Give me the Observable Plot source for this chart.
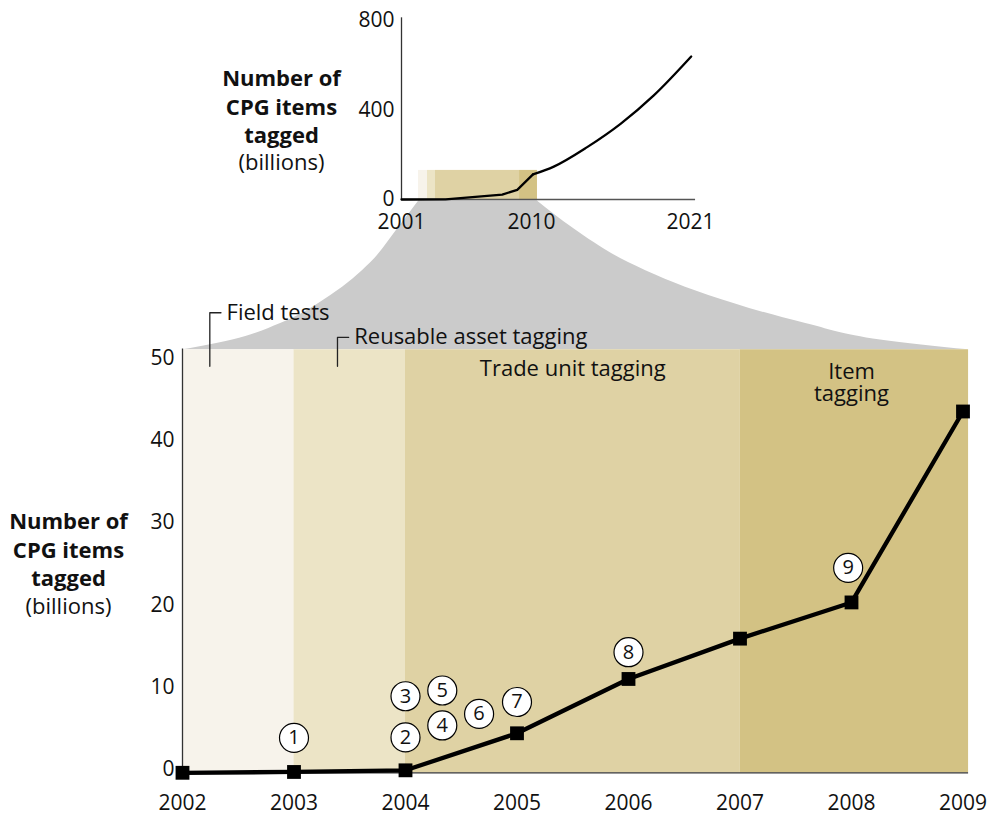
<!DOCTYPE html>
<html><head><meta charset="utf-8">
<script src="https://cdn.jsdelivr.net/npm/d3@7"></script>
<script src="https://cdn.jsdelivr.net/npm/@observablehq/plot@0.6"></script>
<style>
body{margin:0;background:#fff;font-family:"Open Sans",sans-serif;}
#wrap{position:relative;width:990px;height:816px;overflow:hidden;}
#wrap svg{position:absolute;left:0;top:0;}
</style></head><body><div id="wrap"></div>
<script>
// ---- main chart data ----
const years = [2002, 2003, 2004, 2005, 2006, 2007, 2008, 2009];
const tagged = [-0.4, -0.3, -0.1, 4.4, 11.0, 15.9, 20.3, 43.5];
const yTicks = [0, 10, 20, 30, 40, 50];

const bandNames = ["Field tests", "Reusable asset tagging", "Trade unit tagging", "Item tagging"];
const bandStart = [2002, 2003, 2004, 2007];
const bandEnd = [2003, 2004, 2007, 2009.05];
const bandColors = ["#f7f3eb", "#ece4c6", "#dfd2a4", "#d3c284"];

const bandLabelText = ["Trade unit tagging", "Item\ntagging"];
const bandLabelX = [2005.5, 2008.0];
const bandLabelY = [48.7, 47.0];

const calloutText = ["Field tests", "Reusable asset tagging"];
const calloutX = [2002.245, 2003.39];
const calloutTop = [55.5, 52.5];
const calloutBottom = [49.0, 49.0];

const noteNums = ["1", "2", "3", "4", "5", "6", "7", "8", "9"];
const noteX = [2003.0, 2004.0, 2004.0, 2004.33, 2004.33, 2004.66, 2005.0, 2006.0, 2007.97];
const noteY = [3.85, 3.9, 8.9, 5.35, 9.6, 6.75, 8.2, 14.25, 24.5];

// zoom funnel (in main chart units)
const funnelY = [51.0, 52.2, 54.2, 57.6, 61.6, 65.7, 69.1];
const funnelLeft = [2002.0, 2002.45, 2002.88, 2003.33, 2003.69, 2003.93, 2004.12];
const funnelRight = [2009.05, 2008.26, 2007.59, 2006.72, 2006.0, 2005.51, 2005.18];

// ---- inset data ----
const insetYears = [2001, 2004.05, 2007.97, 2009.01, 2010.1, 2011.54, 2013.85, 2016.16, 2018.46, 2021.05];
const insetValues = [0, 0.5, 22, 43, 112, 147, 234, 338, 465, 639];
const insetKink = 4; // index where the smooth projection starts
const insetXTicks = [2001, 2010, 2021];
const insetYTicks = [0, 400, 800];
const insetBandStart = [2002.18, 2002.8, 2003.35, 2009.17];
const insetBandEnd = [2002.8, 2003.35, 2009.17, 2010.41];
const insetBandTop = 130;

// ---- tables ----
const series = years.map((y, i) => ({year: y, value: tagged[i]}));
const bands = bandNames.map((n, i) => ({name: n, start: bandStart[i], end: bandEnd[i], color: bandColors[i]}));
const bandLabels = bandLabelText.map((t, i) => ({text: t, x: bandLabelX[i], y: bandLabelY[i]}));
const callouts = calloutText.map((t, i) => ({text: t, x: calloutX[i], top: calloutTop[i], bottom: calloutBottom[i]}));
const calloutPaths = callouts.flatMap((c, i) => [
  {k: i, x: c.x, y: c.bottom},
  {k: i, x: c.x, y: c.top},
  {k: i, x: c.x + 0.1, y: c.top}
]);
const notes = noteNums.map((n, i) => ({n, x: noteX[i], y: noteY[i]}));
const funnel = funnelY.map((y, i) => ({y, x1: funnelLeft[i], x2: funnelRight[i]}));
const inset = insetYears.map((y, i) => ({year: y, value: insetValues[i]}));
const insetPast = inset.slice(0, insetKink + 1);
const insetFuture = inset.slice(insetKink);
const insetBands = insetBandStart.map((s, i) => ({start: s, end: insetBandEnd[i], color: bandColors[i]}));

const FONT = "Open Sans";
const FS = 21;   // tick labels
const LS = 22;   // annotation / title text

const mainChart = Plot.plot({
  width: 990, height: 816,
  marginLeft: 182, marginRight: 27.5, marginTop: 357.5, marginBottom: 47,
  x: {domain: [2002, 2009]},
  y: {domain: [0, 50]},
  color: {type: "identity"},
  style: {background: "transparent", fontFamily: FONT, fontSize: FS + "px", color: "#111"},
  marks: [
    Plot.areaX(funnel, {y: "y", x1: "x1", x2: "x2", fill: "#cbcbcb", curve: "monotone-y"}),
    Plot.rect(bands, {x1: "start", x2: "end", y1: -0.4, y2: 51, fill: "color"}),
    Plot.ruleX([2002], {y1: -0.4, y2: 51.1, stroke: "#333", strokeWidth: 1.3}),
    Plot.ruleY([-0.4], {x1: 2002, x2: 2009.05, stroke: "#333", strokeWidth: 1.3}),
    Plot.axisY({ticks: yTicks, tickSize: 0, tickPadding: 8, label: null, fontSize: FS, tickFormat: "d"}),
    Plot.axisX({ticks: years, tickSize: 0, tickPadding: 26, label: null, fontSize: FS, tickFormat: "d"}),
    Plot.line(calloutPaths, {x: "x", y: "y", z: "k", stroke: "#222", strokeWidth: 1.3}),
    Plot.text(callouts, {x: d => d.x + 0.15, y: "top", text: "text", textAnchor: "start", fontSize: LS}),
    Plot.text(bandLabels, {x: "x", y: "y", text: "text", fontSize: LS, lineHeight: 1.04}),
    Plot.line(series, {x: "year", y: "value", stroke: "black", strokeWidth: 4.3}),
    Plot.dot(series, {x: "year", y: "value", symbol: "square", r: 7.8, fill: "black"}),
    Plot.dot(notes, {x: "x", y: "y", r: 14.5, fill: "white", stroke: "black", strokeWidth: 1.2}),
    Plot.text(notes, {x: "x", y: "y", text: "n", fontSize: 20}),
    Plot.text(["Number of\nCPG items\ntagged"], {frameAnchor: "top-left", dx: -114, dy: 190.5, lineAnchor: "middle", textAnchor: "middle", fontWeight: "bold", fontSize: LS, lineHeight: 1.3}),
    Plot.text(["(billions)"], {frameAnchor: "top-left", dx: -114, dy: 249, lineAnchor: "middle", textAnchor: "middle", fontSize: LS})
  ]
});

const insetChart = Plot.plot({
  width: 990, height: 240,
  marginLeft: 401, marginRight: 300, marginTop: 20, marginBottom: 41,
  x: {domain: [2001, 2021]},
  y: {domain: [0, 800]},
  color: {type: "identity"},
  style: {background: "transparent", fontFamily: FONT, fontSize: FS + "px", color: "#111"},
  marks: [
    Plot.rect(insetBands, {x1: "start", x2: "end", y1: 0, y2: insetBandTop, fill: "color"}),
    Plot.ruleX([2001], {y1: 0, y2: 812, stroke: "#333", strokeWidth: 1.3}),
    Plot.ruleY([0], {x1: 2001, x2: 2021.35, stroke: "#555", strokeWidth: 1.3}),
    Plot.line(insetPast, {x: "year", y: "value", stroke: "black", strokeWidth: 2.3}),
    Plot.line(insetFuture, {x: "year", y: "value", stroke: "black", strokeWidth: 2.3, curve: "monotone-x"}),
    Plot.axisY({ticks: insetYTicks, tickSize: 0, tickPadding: 7, label: null, fontSize: FS, tickFormat: "d"}),
    Plot.axisX({ticks: insetXTicks, tickSize: 0, tickPadding: 15, label: null, fontSize: FS, tickFormat: "d"}),
    Plot.text(["Number of\nCPG items\ntagged"], {frameAnchor: "top-left", dx: -120, dy: 85, lineAnchor: "middle", textAnchor: "middle", fontWeight: "bold", fontSize: LS, lineHeight: 1.29}),
    Plot.text(["(billions)"], {frameAnchor: "top-left", dx: -120, dy: 142.5, lineAnchor: "middle", textAnchor: "middle", fontSize: LS})
  ]
});

const wrap = document.getElementById("wrap");
wrap.appendChild(mainChart);
wrap.appendChild(insetChart);
</script></body></html>
